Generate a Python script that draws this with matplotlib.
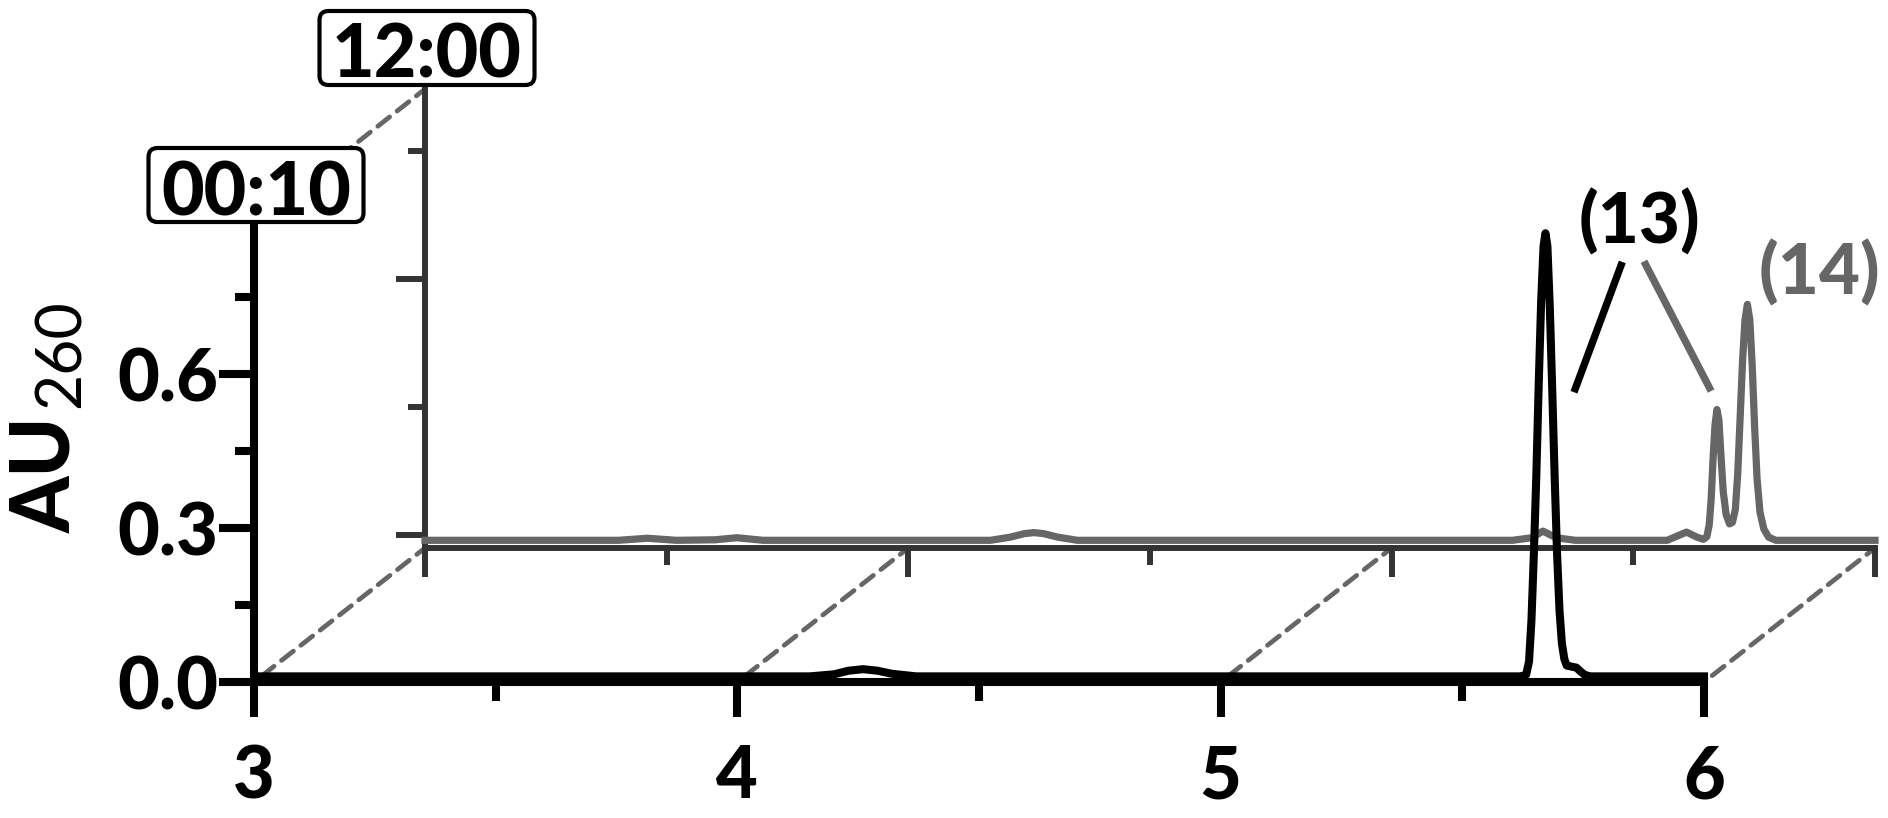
import matplotlib.pyplot as plt
from matplotlib.patches import FancyBboxPatch, ConnectionPatch
from matplotlib.transforms import IdentityTransform

plt.rcParams['font.family'] = ['Lato', 'DejaVu Sans']

W, H = 1888, 818

# 00:10 trace (front), retention time vs AU260
trace_0010_x = [3.0, 4.15, 4.20, 4.23, 4.26, 4.29, 4.32, 4.37, 5.62, 5.632, 5.638, 5.643,
                5.648, 5.653, 5.658, 5.663, 5.668, 5.672, 5.676, 5.681, 5.686, 5.691,
                5.696, 5.701, 5.706, 5.711, 5.716, 5.726, 5.736, 5.744, 5.753, 5.765, 6.0]
trace_0010_y = [0.011, 0.011, 0.015, 0.022, 0.025, 0.022, 0.016, 0.011, 0.011, 0.014, 0.04,
                0.12, 0.25, 0.40, 0.58, 0.74, 0.85, 0.875, 0.85, 0.73, 0.57, 0.40,
                0.25, 0.14, 0.075, 0.045, 0.032, 0.030, 0.028, 0.021, 0.014, 0.011, 0.011]

# 12:00 trace (back)
trace_1200_x = [3.0, 3.40, 3.46, 3.52, 3.60, 3.645, 3.70, 4.17, 4.21, 4.24, 4.26, 4.28,
                4.31, 4.35, 5.25, 5.29, 5.313, 5.34, 5.38, 5.57, 5.61, 5.632, 5.645, 5.652,
                5.657, 5.661, 5.665, 5.669, 5.673, 5.677, 5.681, 5.686, 5.692, 5.699, 5.705,
                5.711, 5.716, 5.721, 5.726, 5.731, 5.736, 5.741, 5.746, 5.751, 5.756, 5.762,
                5.770, 5.780, 5.795, 6.0]
trace_1200_y = [-0.010, -0.010, -0.006, -0.010, -0.009, -0.005, -0.010, -0.010, -0.004,
                0.003, 0.005, 0.003, -0.004, -0.010, -0.010, -0.005, 0.008, -0.005, -0.010,
                -0.010, 0.006, -0.004, -0.008, -0.003, 0.02, 0.07, 0.15, 0.215, 0.245,
                0.225, 0.16, 0.085, 0.04, 0.022, 0.025, 0.05, 0.12, 0.23, 0.34, 0.42, 0.45,
                0.42, 0.33, 0.21, 0.11, 0.045, 0.012, -0.004, -0.010, -0.010]

x_ticks = [3, 4, 5, 6]
x_minor = [3.5, 4.5, 5.5]
y_ticks = [0.0, 0.3, 0.6]
y_tick_labels = ['0.0', '0.3', '0.6']
y_minor = [0.15, 0.45, 0.75]
back_y_ticks = [0.0, 0.5]
back_y_minor = [0.25, 0.75]
time_labels = ['00:10', '12:00']
peak_labels = ['(13)', '(14)']

GRAY = '#666666'
DARK = '#333333'
HEAVY = 'black'  # font weight

fig = plt.figure(figsize=(W / 100, H / 100), dpi=100)


def px_rect(x0, y0, x1, y1):
    # pixel box (origin top-left) -> figure fraction
    return [x0 / W, 1 - y1 / H, (x1 - x0) / W, (y1 - y0) / H]


back = fig.add_axes(px_rect(425, 89, 1875, 548))
front = fig.add_axes(px_rect(254, 224, 1704, 682))

for ax, col, lw, big, small in [(back, DARK, 4.3, 21, 12), (front, 'black', 5.8, 25, 14)]:
    ax.set_facecolor('none')
    ax.spines[['top', 'right']].set_visible(False)
    for s in ('left', 'bottom'):
        ax.spines[s].set_color(col)
        ax.spines[s].set_linewidth(lw)
    ax.set_xlim(3, 6)
    ax.set_xticks(x_ticks)
    ax.set_xticks(x_minor, minor=True)
    ax.tick_params(which='major', color=col, width=lw, length=big, direction='out')
    ax.tick_params(which='minor', color=col, width=lw, length=small, direction='out')

back.set_ylim(-0.025, 0.87)
back.set_yticks(back_y_ticks)
back.set_yticks(back_y_minor, minor=True)
back.tick_params(labelbottom=False, labelleft=False)

front.set_ylim(0, 0.893)
front.set_yticks(y_ticks)
front.set_yticklabels(y_tick_labels)
front.set_yticks(y_minor, minor=True)
front.set_xticklabels([str(t) for t in x_ticks])
front.tick_params(axis='x', pad=20, labelsize=52)
front.tick_params(axis='y', pad=1, labelsize=52)
for lab in front.get_xticklabels() + front.get_yticklabels():
    lab.set_fontweight(HEAVY)

# traces
back.plot(trace_1200_x, trace_1200_y, color=GRAY, lw=5.2, zorder=3, clip_on=False)
front.plot(trace_0010_x, trace_0010_y, color='black', lw=5.8, zorder=3, clip_on=False)

# dashed perspective connectors
dash = (3, (3.2, 2.0))
for xv in x_ticks:
    con = ConnectionPatch(xyA=(xv, 0), coordsA=front.transData,
                          xyB=(xv, -0.025), coordsB=back.transData,
                          color=GRAY, lw=3.4, linestyle=dash, zorder=-1)
    fig.add_artist(con)
con = ConnectionPatch(xyA=(3, 0.893), coordsA=front.transData,
                      xyB=(3, 0.87), coordsB=back.transData,
                      color=GRAY, lw=3.4, linestyle=dash, zorder=-1)
fig.add_artist(con)

# peak labels
front.plot([5.731, 5.831], [0.565, 0.819], color='black', lw=5.3, clip_on=False,
           solid_capstyle='butt')
back.plot([5.661, 5.522], [0.281, 0.534], color=GRAY, lw=5.3, clip_on=False,
          solid_capstyle='butt')
front.text(5.866, 0.854, peak_labels[0], ha='center', va='baseline', fontsize=51,
           fontweight=HEAVY, clip_on=False)
back.text(5.886, 0.469, peak_labels[1], ha='center', va='baseline', fontsize=51,
          fontweight=HEAVY, color=GRAY, clip_on=False)


# time boxes above each y axis
def time_box(cx, top, text):
    w, h = 215, 74
    box = FancyBboxPatch((cx - w / 2, H - top - h), w, h,
                         boxstyle='round,pad=0,rounding_size=9',
                         transform=IdentityTransform(), fc='white', ec='black', lw=3, zorder=5)
    fig.add_artist(box)
    fig.text(cx / W, 1 - (top + 67) / H, text, ha='center', va='baseline',
             fontsize=53, fontweight=HEAVY, zorder=6)


time_box(256, 148, time_labels[0])
time_box(427, 11, time_labels[1])

# y label: bold "AU" with regular subscript "260"
fig.text(47 / W, 1 - 475 / H, 'AU', rotation=90, ha='center', va='center',
         fontsize=58, fontweight=HEAVY)
fig.text(62 / W, 1 - 354 / H, '260', rotation=90, ha='center', va='center',
         fontsize=45)

fig.savefig('out.png', dpi=100)
